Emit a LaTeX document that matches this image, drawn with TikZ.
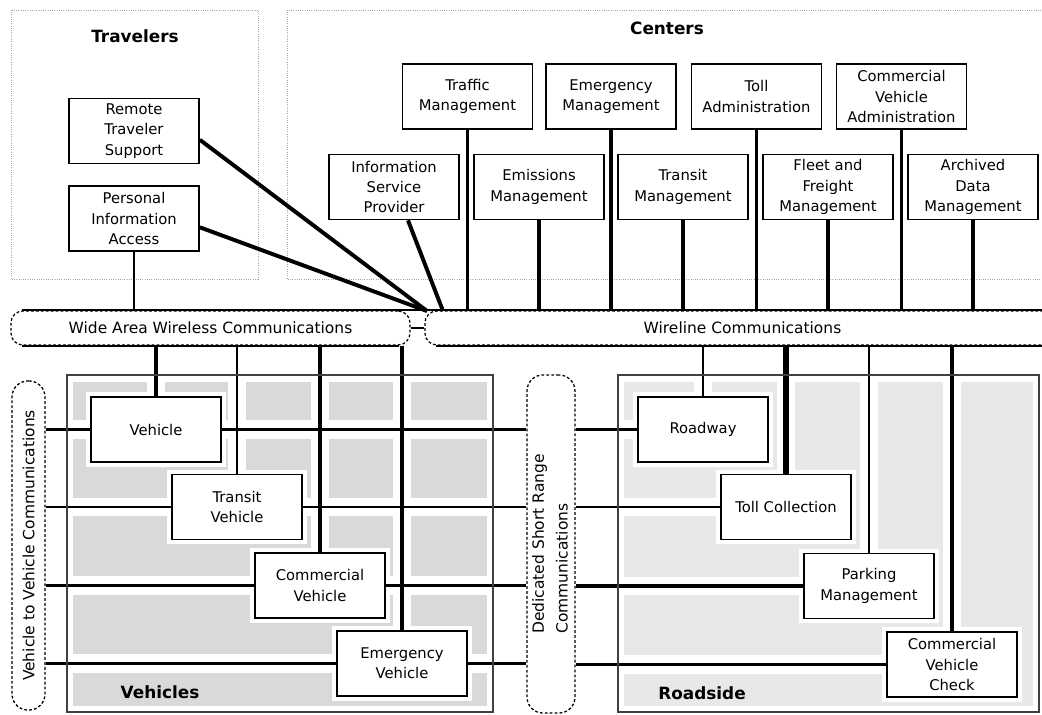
\documentclass[tikz,border=0pt]{standalone}
\usepackage{fontspec}
\setmainfont{DejaVu Sans}
\usetikzlibrary{backgrounds}
\begin{document}
\begin{tikzpicture}[x=0.025cm, y=-0.025cm,
        box/.style={draw, line width=1.2pt, fill=white, minimum width=3.25cm,
            minimum height=1.625cm, inner sep=0pt, align=center,
            font=\fontsize{10.5}{14.5}\selectfont,
            preaction={draw=white, line width=7pt}},
        comms/.style={draw, line width=0.9pt, dash pattern=on 2pt off 1.5pt,
            rounded corners=0.3cm, inner sep=0pt, font=\fontsize{11}{17}\selectfont},
        area/.style={draw=black!35, densely dotted, line width=0.6pt},
        ground/.style={draw=black!75, line width=0.9pt},
        stipple/.style={fill=black!15},
        gutter/.style={draw=white, line width=13pt},
        title/.style={font=\fontsize{12}{14}\selectfont\bfseries},
        busline/.style={line width=1.4pt},
        thinlink/.style={line width=1pt},
        midlink/.style={line width=2pt},
        thicklink/.style={line width=2.8pt}]
                \useasboundingbox (0,0) rectangle (1042,715);
                \draw [area] (11,10) rectangle (258,279);
                \draw [area] (287,10) rectangle (1060,279);
                \node [title] (travelers) at (135,36) {Travelers};
                \node [title] (centers) at (667,28) {Centers};
                \node [box] (rts) at (134,131) {Remote\\Traveler\\Support};
                \node [box] (pia) at (134,218.5) {Personal\\Information\\Access};
                \node [box] (tm) at (467.5,96.5) {Traffic\\Management};
                \node [box] (em) at (611,96.5) {Emergency\\Management};
                \node [box] (ta) at (756.5,96.5) {Toll\\Administration};
                \node [box] (cva) at (901.5,96.5) {Commercial\\Vehicle\\Administration};
                \node [box] (isp) at (394,187) {Information\\Service\\Provider};
                \node [box] (es) at (539,187) {Emissions\\Management};
                \node [box] (trm) at (683,187) {Transit\\Management};
                \node [box] (ffm) at (828,187) {Fleet and\\Freight\\Management};
                \node [box] (adm) at (973,187) {Archived\\Data\\Management};
                \node [box] (veh) at (156,429.5) {Vehicle};
                \node [box] (tv) at (237,507) {Transit\\Vehicle};
                \node [box] (cv) at (320,585.5) {Commercial\\Vehicle};
                \node [box] (ev) at (402,663.5) {Emergency\\Vehicle};
                \node [box] (rdw) at (703,429.5) {Roadway};
                \node [box] (tc) at (786,507) {Toll Collection};
                \node [box] (pm) at (869,586) {Parking\\Management};
                \node [box] (cvc) at (952,664.5) {Commercial\\Vehicle\\Check};
                \node [comms, minimum width=9.975cm, minimum height=0.85cm] (wawc) at (210.5,328) {Wide Area Wireless Communications};
                \node [comms, minimum width=15.875cm, minimum height=0.85cm] (wlc) at (742.5,328) {Wireline Communications};
                \node [comms, rounded corners=0.4cm, minimum width=0.825cm, minimum height=8.225cm] (v2v) at (28.5,545.5) {\rotatebox{90}{Vehicle to Vehicle Communications}};
                \node [comms, rounded corners=0.4cm, minimum width=1.2cm, minimum height=8.45cm] (dsrc) at (551,544) {\rotatebox{90}{\begin{tabular}{@{}l@{}}Dedicated Short Range\\Communications\end{tabular}}};
                \node [title] (vehicles) at (160,692) {Vehicles};
                \node [title] (roadside) at (702,693) {Roadside};
                \coordinate (hub) at (427,311);
                \coordinate (ispend) at (443,311);
                \draw [busline] ([xshift=0.3cm]wawc.north west) -- (wlc.north east);
                \draw [busline] ([xshift=0.3cm]wawc.south west) -- ([xshift=-0.3cm]wawc.south east);
                \draw [busline] ([xshift=0.3cm]wlc.south west) -- (wlc.south east);
                \draw [busline] (wawc.east) -- (wlc.west);
                \draw [thicklink] ([yshift=-0.22cm]rts.east) -- (hub);
                \draw [thicklink] ([yshift=-0.22cm]pia.east) -- (hub);
                \draw [thicklink] ([xshift=0.35cm]isp.south) -- (ispend);
                \draw [midlink] (pia.south) -- (pia.south |- wawc.north);
                \draw [thicklink] (tm.south) -- (tm.south |- wlc.north);
                \draw [thicklink] (es.south) -- (es.south |- wlc.north);
                \draw [thicklink] (em.south) -- (em.south |- wlc.north);
                \draw [thicklink] (trm.south) -- (trm.south |- wlc.north);
                \draw [thicklink] (ta.south) -- (ta.south |- wlc.north);
                \draw [thicklink] (ffm.south) -- (ffm.south |- wlc.north);
                \draw [thicklink] (cva.south) -- (cva.south |- wlc.north);
                \draw [thicklink] (adm.south) -- (adm.south |- wlc.north);
                \draw [thicklink] (veh.north |- wawc.south) -- (veh.north);
                \draw [thinlink] (tv.north |- wawc.south) -- (tv.north);
                \draw [thicklink] (cv.north |- wawc.south) -- (cv.north);
                \draw [thicklink] (ev.north |- wawc.south) -- (ev.north);
                \draw [thinlink] (rdw.north |- wlc.south) -- (rdw.north);
                \draw [thicklink, line width=3.6pt] (tc.north |- wlc.south) -- (tc.north);
                \draw [thinlink, line width=1.6pt] (pm.north |- wlc.south) -- (pm.north);
                \draw [thicklink] (cvc.north |- wlc.south) -- (cvc.north);
                \draw [midlink] (v2v.east |- veh.west) -- (veh.west);
                \draw [midlink] (veh.east) -- (dsrc.west |- veh.east);
                \draw [midlink] (v2v.east |- tv.west) -- (tv.west);
                \draw [midlink] (tv.east) -- (dsrc.west |- tv.east);
                \draw [thicklink] (v2v.east |- cv.west) -- (cv.west);
                \draw [thicklink] (cv.east) -- (dsrc.west |- cv.east);
                \draw [thicklink] (v2v.east |- ev.west) -- (ev.west);
                \draw [thicklink] (ev.east) -- (dsrc.west |- ev.east);
                \draw [midlink] (dsrc.east |- rdw.west) -- (rdw.west);
                \draw [midlink] (dsrc.east |- tc.west) -- (tc.west);
                \draw [thicklink] (dsrc.east |- pm.west) -- (pm.west);
                \draw [thicklink] (dsrc.east |- cvc.west) -- (cvc.west);
                \draw [ground] (67,375) rectangle (493,712);
                \draw [ground] (618,375) rectangle (1039,712);
                \begin{scope}[on background layer]
                    \fill [stipple] (73,382) rectangle (487,706);
                    \fill [stipple, fill=black!9] (624,382) rectangle (1033,706);
                    \draw [gutter] (veh.north |- wawc.south) -- (veh.north)
                        (tv.north |- wawc.south) -- (tv.north)
                        (cv.north |- wawc.south) -- (cv.north)
                        (ev.north |- wawc.south) -- (ev.north)
                        (rdw.north |- wlc.south) -- (rdw.north)
                        (tc.north |- wlc.south) -- (tc.north)
                        (pm.north |- wlc.south) -- (pm.north)
                        (cvc.north |- wlc.south) -- (cvc.north)
                        (v2v.east |- veh.west) -- (dsrc.west |- veh.east)
                        (v2v.east |- tv.west) -- (dsrc.west |- tv.east)
                        (v2v.east |- cv.west) -- (dsrc.west |- cv.east)
                        (v2v.east |- ev.west) -- (dsrc.west |- ev.east)
                        (dsrc.east |- rdw.west) -- (rdw.west)
                        (dsrc.east |- tc.west) -- (tc.west)
                        (dsrc.east |- pm.west) -- (pm.west)
                        (dsrc.east |- cvc.west) -- (cvc.west);
                \end{scope}
            \end{tikzpicture}
\end{document}
